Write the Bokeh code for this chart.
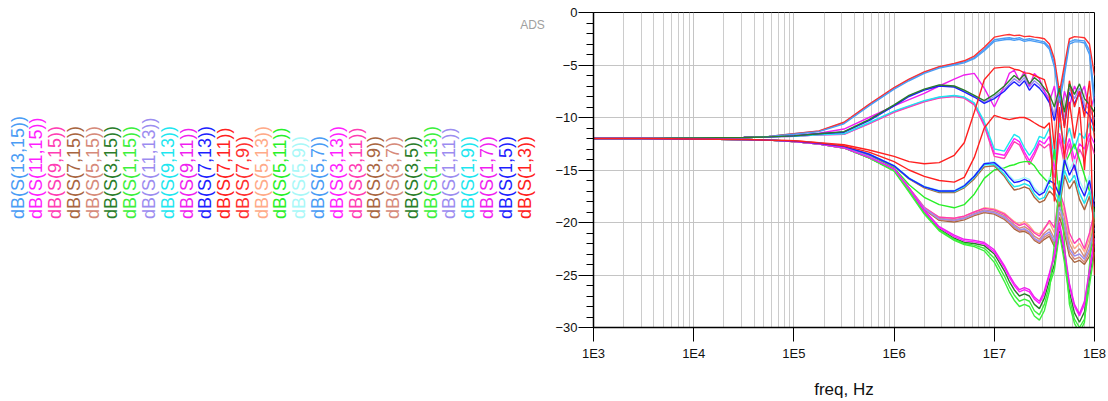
import math
from bokeh.plotting import figure
from bokeh.models import Range1d, FixedTicker, Label
from bokeh.layouts import row
from bokeh.core.properties import value
from bokeh.embed import file_html
from bokeh.resources import INLINE

# ---------------- data ----------------
FREQ_HZ = [1.0e3, 3.16e3, 1.0e4, 3.16e4, 5.62e4,
           1.0e5, 1.78e5, 3.16e5, 5.62e5,
           1.0e6, 1.41e6, 2.0e6, 2.82e6, 3.98e6, 5.01e6, 6.31e6, 7.94e6,
           1.0e7, 1.26e7, 1.41e7, 1.58e7, 1.78e7, 2.0e7, 2.24e7, 2.51e7, 2.82e7, 3.16e7,
           3.55e7, 3.98e7, 4.47e7, 5.01e7, 5.62e7, 6.31e7, 7.08e7, 7.94e7, 8.91e7, 1.0e8]

S13_15 = [-12.0, -12.0, -11.95, -11.9, -11.8, -11.55, -11.3, -10.5, -8.8,
          -7.2, -6.4, -5.7, -5.2, -4.9, -4.7, -4.3, -3.5,
          -2.6, -2.45, -2.4, -2.5, -2.4, -2.6, -2.5, -2.6, -2.7, -2.8,
          -3.3, -4.8, -8.0, -5.5, -2.8, -2.6, -2.65, -2.7, -3.6, -8.0]
S11_15 = [-12.0, -12.0, -11.95, -11.9, -11.85, -11.8, -11.65, -11.6, -10.55,
          -9.45, -8.95, -8.45, -8.1, -7.95, -8.1, -8.7, -10.6,
          -13.4, -13.6, -12.8, -12.0, -12.3, -13.3, -14.1, -13.3, -12.2, -12.5,
          -11.8, -15.0, -11.5, -13.5, -12.0, -14.0, -12.5, -13.0, -11.5, -12.5]
S9_15 = [-12.0, -12.0, -11.95, -11.9, -11.85, -11.8, -11.65, -11.6, -10.6,
         -9.5, -9.0, -8.5, -8.15, -8.0, -8.15, -8.8, -10.8,
         -13.7, -13.9, -13.1, -12.3, -12.6, -13.6, -14.5, -13.6, -12.5, -12.9,
         -12.5, -16.0, -12.0, -14.5, -12.5, -15.0, -13.0, -14.0, -12.0, -13.5]
S7_15 = [-12.0, -12.0, -12.05, -12.1, -12.15, -12.28, -12.5, -12.85, -13.7,
         -14.95, -16.8, -18.75, -19.8, -19.95, -19.75, -19.35, -19.05,
         -19.2, -19.7, -20.1, -20.6, -20.9, -20.85, -21.1, -21.7, -22.0, -21.6,
         -21.3, -22.3, -19.5, -21.0, -23.2, -23.8, -23.6, -24.0, -23.2, -21.5]
S5_15 = [-12.0, -12.0, -12.05, -12.1, -12.15, -12.28, -12.5, -12.85, -13.7,
         -14.9, -16.7, -18.6, -19.6, -19.75, -19.55, -19.15, -18.8,
         -18.95, -19.35, -19.8, -20.2, -20.55, -20.4, -20.7, -21.3, -21.6, -21.0,
         -20.6, -21.5, -18.0, -19.5, -22.0, -23.0, -22.5, -23.3, -22.0, -20.0]
S3_15 = [-12.0, -12.0, -12.05, -12.1, -12.15, -12.3, -12.52, -12.9, -13.85,
         -15.0, -16.9, -19.0, -20.6, -21.5, -21.9, -22.0, -22.2,
         -23.0, -24.6, -25.6, -26.4, -27.0, -26.8, -27.0, -27.8, -28.2, -27.2,
         -25.5, -24.0, -20.8, -23.2, -26.6, -28.6, -29.5, -28.5, -25.3, -22.2]
S1_15 = [-12.0, -12.0, -12.05, -12.1, -12.15, -12.3, -12.52, -12.9, -13.85,
         -15.05, -17.0, -19.1, -20.7, -21.6, -22.0, -22.15, -22.45,
         -23.4, -25.1, -26.1, -26.9, -27.5, -27.3, -27.5, -28.4, -28.8, -27.8,
         -26.0, -24.5, -21.0, -23.8, -27.2, -29.2, -30.0, -29.2, -26.0, -22.8]
S11_13 = [-12.0, -12.0, -11.95, -11.9, -11.85, -11.75, -11.55, -11.4, -10.25,
          -8.85, -7.95, -7.35, -6.95, -7.05, -7.5, -8.0, -8.55,
          -8.0, -7.3, -6.8, -6.3, -6.7, -6.2, -7.1, -6.5, -6.9, -7.5,
          -8.2, -9.8, -7.6, -10.2, -7.2, -8.2, -7.2, -8.8, -9.2, -10.2]
S9_13 = [-12.0, -12.0, -11.95, -11.9, -11.85, -11.8, -11.65, -11.55, -10.5,
         -9.4, -8.9, -8.4, -8.05, -7.9, -8.05, -8.6, -10.4,
         -13.0, -13.2, -12.4, -11.6, -11.9, -12.9, -13.6, -12.9, -11.8, -12.0,
         -11.0, -14.0, -10.5, -12.5, -11.0, -13.0, -11.5, -12.0, -10.5, -11.5]
S9_11 = [-12.0, -12.0, -11.95, -11.9, -11.85, -11.7, -11.5, -11.1, -10.0,
         -8.9, -8.3, -7.7, -7.0, -6.35, -5.95, -5.8, -7.2,
         -9.0, -7.0, -5.8, -5.5, -6.5, -5.6, -7.0, -5.8, -6.3, -7.5,
         -8.5, -7.0, -10.5, -7.5, -9.0, -7.0, -8.0, -7.0, -9.5, -8.0]
S7_13 = [-12.0, -12.0, -11.95, -11.9, -11.85, -11.75, -11.55, -11.4, -10.3,
         -8.9, -8.0, -7.4, -7.0, -7.1, -7.55, -8.05, -8.65,
         -8.2, -7.5, -7.0, -6.6, -7.0, -6.5, -7.4, -6.8, -7.2, -7.8,
         -8.6, -10.3, -8.0, -10.8, -7.6, -8.7, -7.6, -9.3, -9.8, -11.0]
S7_11 = [-12.0, -12.0, -12.05, -12.1, -12.15, -12.2, -12.4, -12.6, -13.1,
         -13.7, -14.2, -14.4, -14.3, -13.6, -12.4, -9.5, -6.4,
         -5.3, -5.2, -5.2, -5.4, -5.5, -5.75, -5.8, -6.0, -6.2, -6.4,
         -8.0, -13.0, -7.0, -11.0, -6.5, -9.0, -7.5, -10.0, -6.5, -12.0]
S7_9 = [-12.0, -12.0, -11.95, -11.9, -11.8, -11.55, -11.28, -10.45, -8.75,
        -7.15, -6.35, -5.65, -5.15, -4.85, -4.6, -4.15, -3.3,
        -2.35, -2.15, -2.1, -2.2, -2.15, -2.3, -2.25, -2.35, -2.4, -2.5,
        -3.0, -4.4, -7.6, -5.0, -2.5, -2.3, -2.35, -2.4, -3.0, -6.0]
S5_13 = [-12.0, -12.0, -12.05, -12.1, -12.15, -12.28, -12.5, -12.85, -13.7,
         -14.9, -16.7, -18.6, -19.5, -19.6, -19.4, -19.0, -18.6,
         -18.7, -19.1, -19.5, -19.9, -20.2, -19.9, -20.3, -20.9, -21.1, -20.5,
         -20.0, -21.0, -17.5, -19.0, -21.5, -22.5, -22.0, -22.8, -21.5, -19.5]
S5_11 = [-12.0, -12.0, -12.05, -12.1, -12.15, -12.28, -12.5, -12.8, -13.6,
         -14.8, -16.4, -17.6, -18.3, -18.6, -18.3, -17.3, -15.8,
         -15.0, -14.8, -14.6, -14.5, -14.3, -14.2, -14.2, -14.6, -15.3, -15.8,
         -16.3, -13.0, -18.0, -14.5, -13.5, -12.5, -14.0, -15.5, -17.0, -19.0]
S5_9 = [-12.0, -12.0, -12.05, -12.1, -12.15, -12.25, -12.45, -12.75, -13.45,
        -14.55, -15.75, -16.55, -16.95, -16.95, -16.45, -15.55, -14.35,
        -14.2, -15.0, -15.5, -16.0, -15.9, -15.7, -15.9, -16.7, -17.2, -16.9,
        -15.7, -15.8, -17.0, -13.5, -15.0, -14.0, -16.0, -17.0, -15.5, -18.0]
S5_7 = [-12.0, -12.0, -11.95, -11.9, -11.8, -11.6, -11.35, -10.6, -8.9,
        -7.3, -6.5, -5.8, -5.3, -5.0, -4.8, -4.4, -3.65,
        -2.75, -2.6, -2.55, -2.65, -2.55, -2.75, -2.65, -2.75, -2.85, -2.95,
        -3.5, -5.2, -8.6, -6.0, -3.0, -2.8, -2.8, -2.9, -4.0, -9.0]
S3_13 = [-12.0, -12.0, -12.05, -12.1, -12.15, -12.3, -12.52, -12.9, -13.8,
         -14.95, -16.8, -18.9, -20.5, -21.35, -21.75, -21.85, -22.05,
         -22.8, -24.3, -25.2, -26.0, -26.6, -26.4, -26.6, -27.3, -27.7, -26.8,
         -25.0, -23.3, -20.3, -22.8, -26.0, -28.0, -28.9, -27.8, -24.8, -21.8]
S3_11 = [-12.0, -12.0, -12.05, -12.1, -12.15, -12.28, -12.5, -12.85, -13.7,
         -14.9, -16.7, -18.55, -19.5, -19.6, -19.4, -19.0, -18.65,
         -18.8, -19.2, -19.6, -20.0, -20.3, -20.1, -20.5, -21.0, -21.3, -20.6,
         -19.8, -20.5, -17.0, -18.5, -21.0, -22.0, -21.5, -22.5, -21.0, -19.0]
S3_9 = [-12.0, -12.0, -12.05, -12.1, -12.15, -12.25, -12.45, -12.8, -13.55,
        -14.65, -15.85, -16.7, -17.15, -17.15, -16.7, -15.85, -14.7,
        -14.6, -15.6, -16.3, -16.9, -16.8, -16.6, -16.8, -17.6, -18.1, -17.9,
        -17.0, -17.5, -18.6, -15.5, -16.8, -16.0, -17.8, -18.8, -17.5, -20.0]
S3_7 = [-12.0, -12.0, -12.05, -12.1, -12.15, -12.28, -12.5, -12.85, -13.7,
        -14.95, -16.75, -18.7, -19.7, -19.85, -19.65, -19.25, -18.95,
        -19.1, -19.6, -20.0, -20.45, -20.8, -20.7, -21.0, -21.6, -21.9, -21.4,
        -21.1, -22.0, -19.0, -20.5, -22.8, -23.5, -23.3, -23.8, -22.8, -21.0]
S3_5 = [-12.0, -12.0, -11.95, -11.9, -11.85, -11.75, -11.55, -11.35, -10.2,
        -8.8, -7.9, -7.3, -6.9, -7.0, -7.4, -7.9, -8.4,
        -7.8, -7.0, -6.5, -6.0, -6.4, -5.9, -6.8, -6.2, -6.6, -7.2,
        -7.8, -9.0, -7.2, -9.5, -6.8, -7.8, -6.8, -8.2, -8.8, -9.5]
S1_13 = [-12.0, -12.0, -12.05, -12.1, -12.15, -12.3, -12.52, -12.9, -13.85,
         -15.1, -17.1, -19.2, -20.8, -21.7, -22.1, -22.3, -22.7,
         -23.8, -25.6, -26.6, -27.4, -28.0, -27.8, -28.0, -28.9, -29.3, -28.4,
         -26.5, -22.0, -16.0, -22.0, -27.8, -29.6, -30.5, -29.5, -24.0, -19.0]
S1_11 = [-12.0, -12.0, -12.05, -12.1, -12.15, -12.28, -12.5, -12.85, -13.7,
         -14.9, -16.75, -18.65, -19.65, -19.8, -19.6, -19.2, -18.9,
         -19.05, -19.5, -19.9, -20.35, -20.7, -20.6, -20.9, -21.5, -21.8, -21.2,
         -20.9, -21.8, -18.5, -20.0, -22.5, -23.2, -23.0, -23.5, -22.5, -20.5]
S1_9 = [-12.0, -12.0, -12.05, -12.1, -12.15, -12.25, -12.45, -12.75, -13.5,
        -14.6, -15.8, -16.6, -17.05, -17.05, -16.6, -15.7, -14.5,
        -14.45, -15.4, -16.1, -16.6, -16.5, -16.3, -16.5, -17.3, -17.8, -17.6,
        -16.5, -17.0, -18.0, -15.0, -16.2, -15.5, -17.2, -18.2, -17.0, -19.5]
S1_7 = [-12.0, -12.0, -12.05, -12.1, -12.15, -12.3, -12.52, -12.9, -13.8,
        -14.9, -16.7, -18.8, -20.4, -21.2, -21.6, -21.7, -21.9,
        -22.6, -24.1, -25.0, -25.8, -26.4, -26.2, -26.4, -27.1, -27.5, -26.5,
        -24.8, -23.0, -20.0, -22.5, -25.8, -27.8, -28.7, -27.5, -24.5, -21.5]
S1_5 = [-12.0, -12.0, -12.05, -12.1, -12.15, -12.25, -12.45, -12.75, -13.5,
        -14.6, -15.8, -16.6, -17.0, -17.0, -16.5, -15.6, -14.4,
        -14.3, -15.1, -15.7, -16.2, -16.1, -15.9, -16.1, -16.95, -17.4, -17.1,
        -16.0, -16.3, -17.4, -14.0, -15.5, -14.5, -16.5, -17.5, -16.0, -18.5]
S1_3 = [-12.0, -12.0, -12.05, -12.1, -12.15, -12.22, -12.42, -12.7, -13.3,
        -14.2, -15.0, -15.6, -16.0, -16.15, -15.7, -13.8, -11.0,
        -9.8, -10.1, -10.2, -10.1, -10.0, -10.0, -10.2, -10.5, -10.8, -11.0,
        -10.5, -18.0, -9.0, -14.0, -8.5, -12.0, -9.0, -15.0, -8.0, -25.0]

LABELS = ["dB(S(13,15))", "dB(S(11,15))", "dB(S(9,15))", "dB(S(7,15))",
          "dB(S(5,15))", "dB(S(3,15))", "dB(S(1,15))", "dB(S(11,13))",
          "dB(S(9,13))", "dB(S(9,11))", "dB(S(7,13))", "dB(S(7,11))",
          "dB(S(7,9))", "dB(S(5,13))", "dB(S(5,11))", "dB(S(5,9))",
          "dB(S(5,7))", "dB(S(3,13))", "dB(S(3,11))", "dB(S(3,9))",
          "dB(S(3,7))", "dB(S(3,5))", "dB(S(1,13))", "dB(S(1,11))",
          "dB(S(1,9))", "dB(S(1,7))", "dB(S(1,5))", "dB(S(1,3))"]

SERIES = [S13_15, S11_15, S9_15, S7_15, S5_15, S3_15, S1_15, S11_13,
          S9_13, S9_11, S7_13, S7_11, S7_9, S5_13, S5_11, S5_9,
          S5_7, S3_13, S3_11, S3_9, S3_7, S3_5, S1_13, S1_11,
          S1_9, S1_7, S1_5, S1_3]

PALETTE = ["#4a9cf5", "#ff1eff", "#ff3cb4", "#a8653f", "#d68a7a", "#2a7d2a",
           "#3cf03c", "#9c8cf0", "#1ee6f0", "#f01ef0", "#1e1eff", "#ff2020",
           "#ff3030", "#ffaa88", "#28f028", "#a8f8f8"]
COLORS = [PALETTE[i % len(PALETTE)] for i in range(len(LABELS))]

Y_TICKS = [-30, -25, -20, -15, -10, -5, 0]
X_TICKS = [1e3, 1e4, 1e5, 1e6, 1e7, 1e8]
X_TICK_LABELS = ["1E3", "1E4", "1E5", "1E6", "1E7", "1E8"]

FONT = "Liberation Sans"

# ---------------- legend panel (rotated trace names) ----------------
LEG_W, H = 548, 401
leg = figure(width=LEG_W, height=H, x_range=Range1d(0, LEG_W), y_range=Range1d(0, H),
             output_backend="svg", toolbar_location=None, min_border=0,
             x_axis_location=None, y_axis_location=None)
leg.grid.visible = False
leg.outline_line_color = None
leg.background_fill_color = "white"
leg.border_fill_color = "white"

lx = [17 + 18.78 * i for i in range(len(LABELS))]
ly = [138] * len(LABELS)
leg.text(x=lx, y=ly, text=LABELS, text_color=COLORS, angle=math.pi / 2,
         text_align="left", text_baseline="middle",
         text_font=value(FONT), text_font_size="18px")
leg.add_layout(Label(x=532, y=385, text="ADS", text_align="center", text_baseline="middle",
                     text_font=FONT, text_font_size="12px", text_color="#a0a0a0"))

# ---------------- chart ----------------
CH_W = 560
p = figure(width=CH_W, height=H, x_axis_type="log",
           x_range=Range1d(X_TICKS[0], X_TICKS[-1]), y_range=Range1d(Y_TICKS[0], Y_TICKS[-1]),
           output_backend="svg", toolbar_location=None,
           min_border_left=45, min_border_right=CH_W - 45 - 501,
           min_border_top=12, min_border_bottom=71)
p.background_fill_color = "white"
p.border_fill_color = "white"
p.outline_line_color = "black"
p.outline_line_width = 1

xminor = [k * d for d in X_TICKS[:-1] for k in range(2, 10)]
xt = FixedTicker(ticks=X_TICKS, minor_ticks=xminor)
p.xaxis.ticker = xt
p.xgrid.ticker = xt
p.xaxis.major_label_overrides = {t: s for t, s in zip(X_TICKS, X_TICK_LABELS)}
p.xaxis.major_tick_out = 14
p.xaxis.major_tick_in = 0
p.xaxis.minor_tick_out = 0
p.xaxis.minor_tick_in = 0
p.xaxis.major_label_standoff = 4
p.xaxis.axis_label = "freq, Hz"
p.xaxis.axis_label_text_font = FONT
p.xaxis.axis_label_text_font_size = "17px"
p.xaxis.axis_label_text_font_style = "normal"
p.xaxis.axis_label_text_color = "#111111"
p.xaxis.axis_label_standoff = 16

yminor = [v for v in range(-29, 0) if v % 5 != 0]
yt = FixedTicker(ticks=Y_TICKS, minor_ticks=yminor)
p.yaxis.ticker = yt
p.ygrid.ticker = yt
p.yaxis.major_tick_out = 15
p.yaxis.major_tick_in = 0
p.yaxis.minor_tick_out = 7
p.yaxis.minor_tick_in = 0
p.yaxis.major_label_standoff = 1

for ax in (p.xaxis, p.yaxis):
    ax.axis_line_color = "black"
    ax.axis_line_width = 1.5
    ax.major_tick_line_color = "black"
    ax.minor_tick_line_color = "black"
    ax.major_label_text_font = FONT
    ax.major_label_text_font_size = "13px"
    ax.major_label_text_color = "#111111"

p.xgrid.grid_line_color = "#c4c4c4"
p.xgrid.minor_grid_line_color = "#cccccc"
p.ygrid.grid_line_color = "#c4c4c4"
p.ygrid.minor_grid_line_color = None

for s, c in zip(SERIES, COLORS):
    p.line(FREQ_HZ, s, line_color=c, line_width=1.4)

layout = row(leg, p)
open("out.html", "w").write(file_html(layout, INLINE))
